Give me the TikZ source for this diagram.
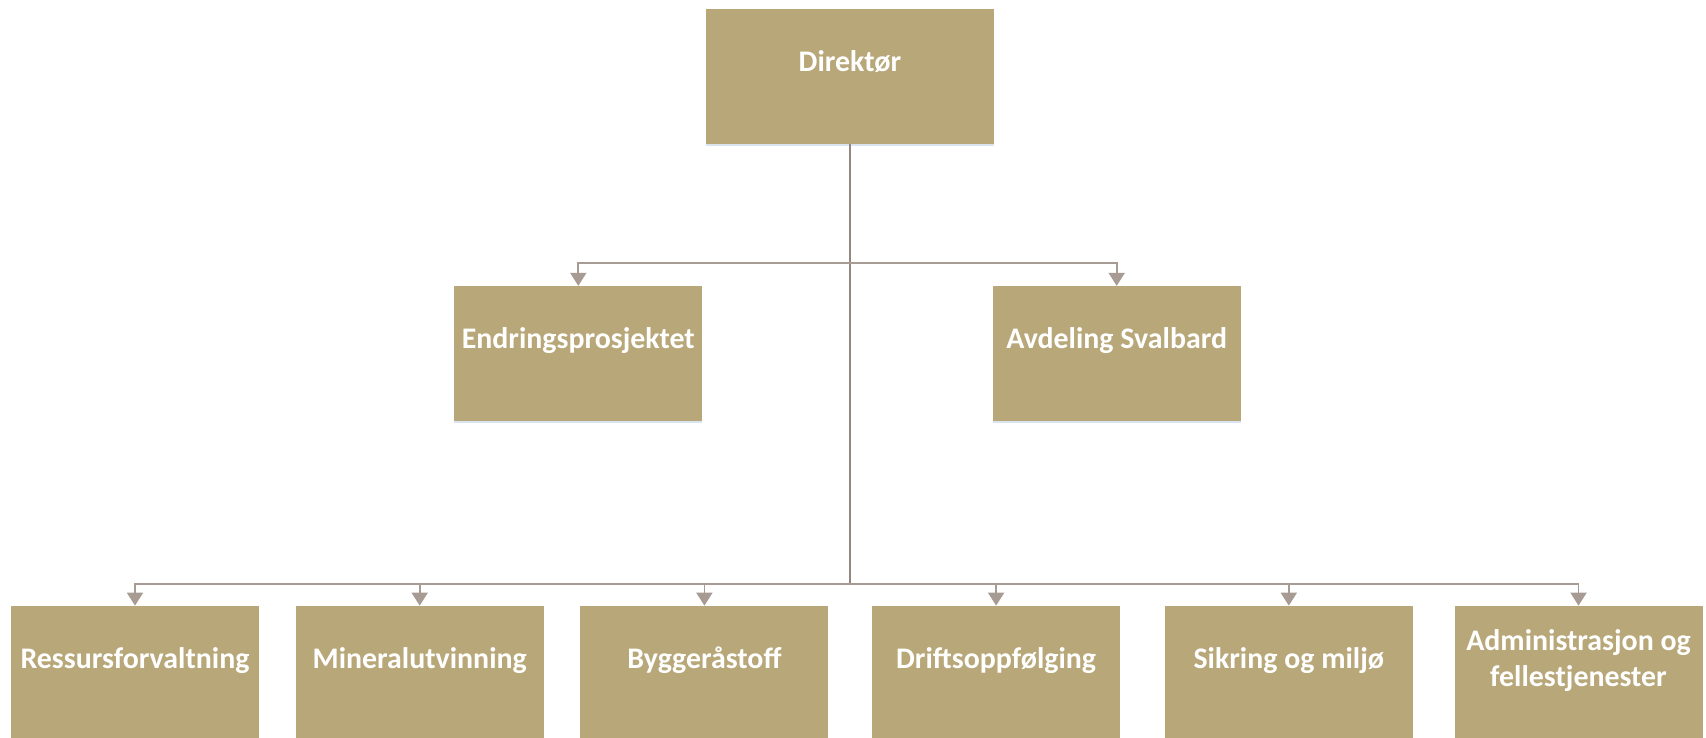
\documentclass[tikz,border=0pt]{standalone}
\usepackage{fontspec}
\setmainfont{Carlito}
\usepackage{xcolor}
\usetikzlibrary{positioning,shadows}
\usetikzlibrary{arrows.meta}
\definecolor{colorBox}{HTML}{B8A778}
\definecolor{colorLine}{HTML}{A89B93}
\definecolor{colorTrunk}{HTML}{948680}
\definecolor{colorShade}{HTML}{C9D8EA}

\begin{document}
\begin{tikzpicture}[>={Triangle[width=0.32cm,length=0.26cm]},every node/.append style={align=center},unit/.style={rectangle, fill=colorBox, minimum width=4.96cm, minimum height=2.7cm, inner sep=0pt, text=white, font=\bfseries\fontsize{17}{20.4}\selectfont, text height=0.42cm, text depth=0.62cm, drop shadow={shadow xshift=0pt, shadow yshift=-1.2pt, fill=colorShade, opacity=0.7}},link/.style={draw=colorLine, line width=1pt},]
    \useasboundingbox (0,0) rectangle (34.12,-14.74);
    \node [unit, minimum width=5.76cm] (Dir) at (17,-1.52) {Direktør};
    \node [unit, below left=2.84cm and 0.06cm of Dir] (Endr) {Endringsprosjektet};
    \node [unit, below right=2.84cm and -0.04cm of Dir] (Svalb) {Avdeling Svalbard};
    \node [unit] (Ress) at (2.7,-13.47) {Ressursforvaltning};
    \node [unit, right=0.72cm of Ress] (Miner) {Mineralutvinning};
    \node [unit, right=0.72cm of Miner] (Bygg) {Byggeråstoff};
    \node [unit, right=0.86cm of Bygg] (Drift) {Driftsoppfølging};
    \node [unit, right=0.88cm of Drift] (Sikr) {Sikring og miljø};
    \node [unit, right=0.82cm of Sikr, text height=1.14cm] (Admin) {Administrasjon og\\fellestjenester};
    \coordinate [below=2.38cm of Dir.south] (MidBus);
    \coordinate [below=8.8cm of Dir.south] (LowBus);
    \draw [link, draw=colorTrunk] (Dir.south) -- (LowBus);
    \draw [link, ->, colorLine] (MidBus) -| (Endr.north);
    \draw [link, ->, colorLine] (MidBus) -| (Svalb.north);
    \foreach \u in {Ress,Miner,Bygg,Drift,Sikr,Admin}
        \draw [link, ->, colorLine] (LowBus) -| (\u.north);
\end{tikzpicture}
\end{document}
